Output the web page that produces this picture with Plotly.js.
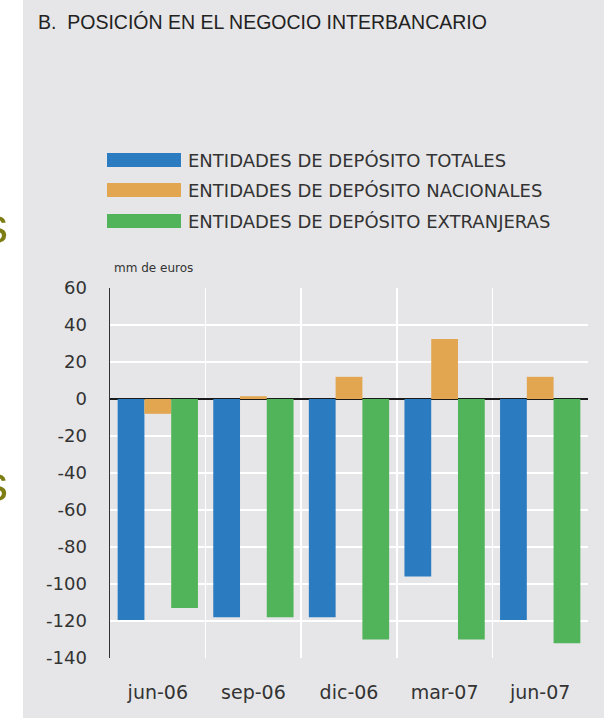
<!DOCTYPE html>
<html>
<head>
<meta charset="utf-8">
<script src="https://cdn.plot.ly/plotly-3.0.1.min.js"></script>
<style>
html,body{margin:0;padding:0;background:#ffffff;}
#bg{position:absolute;left:23px;top:0;width:581px;height:718px;background:#e6e6e8;}
#chart{position:absolute;left:0;top:0;width:604px;height:718px;}
</style>
</head>
<body>
<div id="bg"></div>
<div id="chart"></div>
<script>
const categories = ["jun-06", "sep-06", "dic-06", "mar-07", "jun-07"];
const seriesNames = ["ENTIDADES DE DEPÓSITO TOTALES", "ENTIDADES DE DEPÓSITO NACIONALES", "ENTIDADES DE DEPÓSITO EXTRANJERAS"];
const totales = [-119.5, -118, -118, -96, -119.5];
const nacionales = [-8, 1.5, 12, 32.5, 12];
const extranjeras = [-113, -118, -130, -130, -132];
const yTicks = [60, 40, 20, 0, -20, -40, -60, -80, -100, -120, -140];
const colors = ["#2b7bc0", "#e2a651", "#52b45a"];

const W = 604, H = 718;
const L = 110, R = 588, T = 288, B = 658;
const px2x = x => (x - L) / (R - L);
const px2y = y => (B - y) / (B - T);

const values = [totales, nacionales, extranjeras];
const traces = values.map((v, i) => ({
  type: "bar",
  x: categories,
  y: v,
  name: seriesNames[i],
  marker: {color: colors[i]},
  showlegend: false,
  hoverinfo: "x+y"
}));

const font = "DejaVu Sans, Liberation Sans, Arial, sans-serif";
const titleFont = "Liberation Sans, Arial, sans-serif";
const shapes = [];
const annotations = [];
const rowY = [160, 190, 221];
seriesNames.forEach((n, i) => {
  shapes.push({type: "rect", xref: "paper", yref: "paper",
    x0: px2x(107), x1: px2x(181), y0: px2y(rowY[i] + 7), y1: px2y(rowY[i] - 7),
    fillcolor: colors[i], line: {width: 0}});
  annotations.push({xref: "paper", yref: "paper", x: px2x(186), y: px2y(rowY[i]),
    xanchor: "left", yanchor: "middle", showarrow: false, text: n,
    font: {family: font, size: 18, color: "#333333"}});
});
annotations.push({xref: "paper", yref: "paper", x: px2x(112), y: px2y(268),
  xanchor: "left", yanchor: "middle", showarrow: false, text: "mm de euros",
  font: {family: font, size: 12, color: "#333333"}});
annotations.push({xref: "paper", yref: "paper", x: px2x(36), y: px2y(22),
  xanchor: "left", yanchor: "middle", showarrow: false,
  text: "B.  POSICIÓN EN EL NEGOCIO INTERBANCARIO",
  font: {family: titleFont, size: 19.5, color: "#222222"}});
// cropped slide text on the left edge
[226, 484].forEach(yy => {
  annotations.push({xref: "paper", yref: "paper", x: px2x(10), y: px2y(yy),
    xanchor: "right", yanchor: "middle", showarrow: false, text: "s",
    font: {family: titleFont, size: 50, color: "#7d7d14"}});
});

const layout = {
  width: W, height: H,
  margin: {l: L, r: W - R, t: T, b: H - B, pad: 0},
  paper_bgcolor: "rgba(0,0,0,0)",
  plot_bgcolor: "#e6e6e8",
  barmode: "group",
  bargap: 0.16,
  bargroupgap: 0,
  showlegend: false,
  xaxis: {
    type: "category",
    range: [-0.5, 4.5],
    tickson: "boundaries",
    showgrid: true, gridcolor: "#ffffff", gridwidth: 1.5,
    ticks: "", showline: false, zeroline: false,
    ticklabelstandoff: 21,
    tickfont: {family: font, size: 19, color: "#333333"}
  },
  yaxis: {
    range: [-140, 60],
    tickvals: yTicks,
    ticktext: yTicks.map(String),
    showgrid: true, gridcolor: "#ffffff", gridwidth: 1.5,
    zeroline: true, zerolinecolor: "#1a1a1a", zerolinewidth: 1.5,
    showline: true, linecolor: "#333333", linewidth: 1.5,
    ticks: "", ticklabelstandoff: 18,
    tickfont: {family: font, size: 18, color: "#333333"}
  },
  shapes: shapes,
  annotations: annotations
};

Plotly.newPlot("chart", traces, layout, {displayModeBar: false, staticPlot: true});
</script>
</body>
</html>
